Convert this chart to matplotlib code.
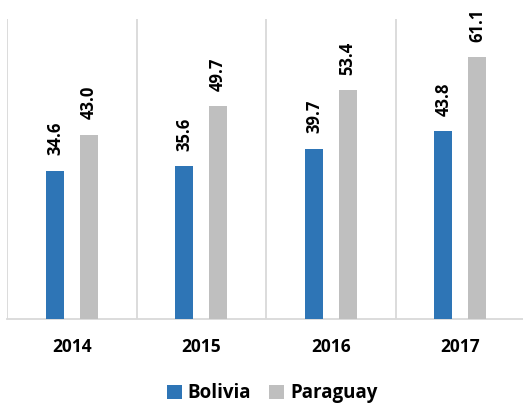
import matplotlib.pyplot as plt
import numpy as np

years = ['2014', '2015', '2016', '2017']
bolivia = [34.6, 35.6, 39.7, 43.8]
paraguay = [43.0, 49.7, 53.4, 61.1]

BLUE = '#2E75B6'
GREY = '#BFBFBF'
GRID = '#D9D9D9'

plt.rcParams['font.family'] = ['Open Sans', 'DejaVu Sans']

fig = plt.figure(figsize=(5.23, 4.08), dpi=100)
ax = fig.add_axes([7 / 523, 89 / 408, 518 / 523, 300 / 408])

x = np.arange(len(years))
w = 0.14
off = 0.13
b1 = ax.bar(x - off, bolivia, w, color=BLUE, label='Bolivia', zorder=3)
b2 = ax.bar(x + off, paraguay, w, color=GREY, label='Paraguay', zorder=3)

for bars, vals in ((b1, bolivia), (b2, paraguay)):
    for r, v in zip(bars, vals):
        ax.text(r.get_x() + r.get_width() / 2, v + 3.6, f'{v:.1f}',
                rotation=90, ha='center', va='bottom',
                fontsize=12, fontweight='bold')

# separators between categories
for xs in np.arange(-0.5, len(years), 1.0):
    ax.axvline(xs, color=GRID, lw=1.3, zorder=1)

ax.set_xlim(-0.5, len(years) - 0.5)
ax.set_ylim(0, 70)
ax.set_yticks([])
ax.set_xticks(x)
ax.set_xticklabels(years, fontsize=12.5, fontweight='bold')
ax.tick_params(axis='x', length=0, pad=14)
for s in ['top', 'right', 'left']:
    ax.spines[s].set_visible(False)
ax.spines['bottom'].set_color(GRID)
ax.spines['bottom'].set_linewidth(1.3)

fig.legend(handles=[b1, b2], loc='lower center', bbox_to_anchor=(0.52, -0.03),
           ncol=2, frameon=False, prop={'size': 13.5, 'weight': 'bold'},
           handlelength=0.8, handleheight=0.8, handletextpad=0.3,
           columnspacing=1.0)

fig.savefig('out.png', dpi=100)
